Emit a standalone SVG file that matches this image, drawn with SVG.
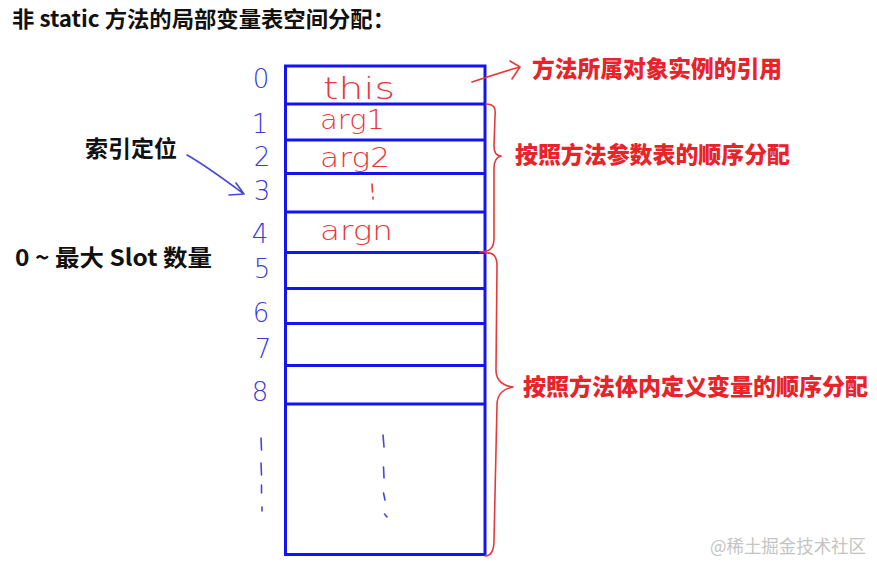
<svg xmlns="http://www.w3.org/2000/svg" width="877" height="566" viewBox="0 0 877 566">
<style>
.title{font-family:"Noto Sans CJK SC","Liberation Sans",sans-serif;font-weight:700;fill:#111}
.red{font-family:"Noto Sans CJK SC","Liberation Sans",sans-serif;font-weight:900;fill:#e8232a;font-size:23px}
.idx{font-family:"DejaVu Sans","Liberation Sans",sans-serif;font-weight:200;fill:#3a3ad8;font-size:26px;text-anchor:middle}
.hand{font-family:"DejaVu Sans","Liberation Sans",sans-serif;font-weight:200;fill:#e8383a}
.cell{fill:none;stroke:#1414f0;stroke-width:3}
.pen-r{fill:none;stroke:#e8383a;stroke-width:1.6;stroke-linecap:round;stroke-linejoin:round}
.pen-b{fill:none;stroke:#4646dc;stroke-width:1.6;stroke-linecap:round;stroke-linejoin:round}
.mark{font-family:"Noto Sans CJK SC",sans-serif;fill:#c4c4c4;font-size:18px}
</style>
<rect width="877" height="566" fill="#fff"/>
<g id="title"><text class="title" x="12" y="27" font-size="22" textLength="383" lengthAdjust="spacingAndGlyphs">非 static 方法的局部变量表空间分配：</text></g>
<g id="table">
<rect class="cell" x="285.5" y="66" width="199.5" height="488.5"/>
<line class="cell" x1="285" y1="104" x2="485" y2="104"/>
<line class="cell" x1="285" y1="140" x2="485" y2="140"/>
<line class="cell" x1="285" y1="173.5" x2="485" y2="173.5"/>
<line class="cell" x1="285" y1="212" x2="485" y2="212"/>
<line class="cell" x1="285" y1="252.5" x2="485" y2="252.5"/>
<line class="cell" x1="285" y1="288.5" x2="485" y2="288.5"/>
<line class="cell" x1="285" y1="323.5" x2="485" y2="323.5"/>
<line class="cell" x1="285" y1="365.5" x2="485" y2="365.5"/>
<line class="cell" x1="285" y1="404" x2="485" y2="404"/>
</g>
<g id="indices">
<text class="idx" x="261" y="88">0</text>
<text class="idx" x="260" y="133">1</text>
<text class="idx" x="262" y="166">2</text>
<text class="idx" x="262" y="200">3</text>
<text class="idx" x="260" y="243">4</text>
<text class="idx" x="262" y="278">5</text>
<text class="idx" x="261" y="322">6</text>
<text class="idx" x="263" y="358">7</text>
<text class="idx" x="260" y="401">8</text>
<path class="pen-b" d="M261 438 L261.5 450 M261 463 L261.5 475 M261.5 485 L261.5 493 M262 507 L262 511"/>
<path class="pen-b" d="M383 435 L384 447 M383.5 467 L384 478 M383.5 493 L385 500 M384.5 514 L387 517"/>
</g>
<g id="cell-labels">
<text class="hand" x="323" y="99" font-size="31" textLength="72" lengthAdjust="spacingAndGlyphs">this</text>
<text class="hand" x="320" y="129" font-size="26" textLength="65" lengthAdjust="spacingAndGlyphs">arg1</text>
<text class="hand" x="320" y="167" font-size="26" textLength="70" lengthAdjust="spacingAndGlyphs">arg2</text>
<path class="pen-r" d="M372 184 L372.5 192 M373 197 L373 199"/>
<text class="hand" x="320" y="240" font-size="26" textLength="73" lengthAdjust="spacingAndGlyphs">argn</text>
</g>
<g id="left-labels">
<text class="title" x="85" y="157" font-size="23" textLength="92" lengthAdjust="spacingAndGlyphs">索引定位</text>
<text class="title" x="15" y="266" font-size="23" textLength="197" lengthAdjust="spacingAndGlyphs">0 ~ 最大 Slot 数量</text>
</g>
<g id="right-labels">
<text class="red" x="532" y="77" textLength="250" lengthAdjust="spacingAndGlyphs">方法所属对象实例的引用</text>
<text class="red" x="515" y="163" textLength="275" lengthAdjust="spacingAndGlyphs">按照方法参数表的顺序分配</text>
<text class="red" x="523" y="395" textLength="345" lengthAdjust="spacingAndGlyphs">按照方法体内定义变量的顺序分配</text>
</g>
<g id="connectors">
<path class="pen-b" d="M187 155 C205 165 225 180 244 194 M236 183 L244 194 L229 195"/>
<path class="pen-r" d="M472 82 C490 76 505 71 520 67 M510 61 L520 67 L512 79"/>
<path class="pen-r" d="M486 104 C494 104 496 108 495 116 L494 146 C494 153 497 156 501 156 C497 157 494 161 494 168 L494 238 C494 248 490 252 480 252"/>
<path class="pen-r" d="M485 253 C494 252 497 257 497 266 L496 370 C496 382 505 386 513 387 C504 389 497 393 497 405 L494 540 C494 552 490 556 485 556"/>
</g>
<g id="watermark"><text class="mark" x="710" y="553" textLength="156" lengthAdjust="spacingAndGlyphs">@稀土掘金技术社区</text></g>
</svg>
